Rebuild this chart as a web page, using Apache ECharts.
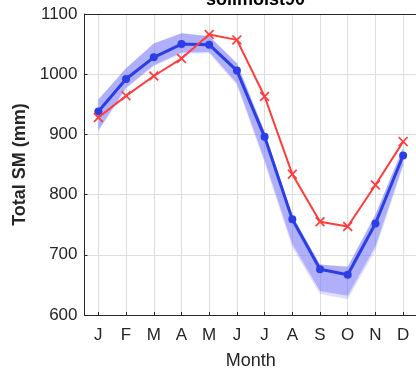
<!DOCTYPE html>
<html><head><meta charset="utf-8">
<script src="https://cdn.jsdelivr.net/npm/echarts@6/dist/echarts.min.js"></script>
<style>html,body{margin:0;padding:0;background:#fff}#c{width:416px;height:370px}</style>
</head><body><div id="c"></div>
<script>
const months = ['J','F','M','A','M','J','J','A','S','O','N','D'];
const monthIdx = [1,2,3,4,5,6,7,8,9,10,11,12];
const blueMean = [938, 992, 1028, 1050, 1049, 1006, 896, 759, 676, 667, 752, 865];
const redObs   = [928, 964, 997, 1026, 1066, 1057, 963, 834, 755, 747, 816, 888];
const bandLow  = [907, 978, 1015, 1036, 1037, 985, 857, 718, 640, 632, 714, 850];
const bandHigh = [958, 1010, 1051, 1068, 1063, 1018, 905, 765, 684, 680, 767, 878];
const bandOuterLow = [905, 976, 1013, 1034, 1035, 982, 852, 712, 635, 626, 708, 847];
const yTicks = [600, 700, 800, 900, 1000, 1100];

const pair = (arr) => arr.map((v, i) => [monthIdx[i], v]);

const chart = echarts.init(document.getElementById('c'), null, {renderer: 'canvas'});
const axisCol = '#262626';
const gridCol = '#dedede';
const font = 'Liberation Sans, Arial, sans-serif';
const xPath = 'path://M0,1.2 L1.2,0 L5,3.8 L8.8,0 L10,1.2 L6.2,5 L10,8.8 L8.8,10 L5,6.2 L1.2,10 L0,8.8 L3.8,5 Z';

function bandRenderer(high, low, fill) {
  return function (params, api) {
    if (params.dataIndex !== 0) return null;
    const pts = [];
    for (let i = 0; i < monthIdx.length; i++) pts.push(api.coord([monthIdx[i], high[i]]));
    for (let i = monthIdx.length - 1; i >= 0; i--) pts.push(api.coord([monthIdx[i], low[i]]));
    return {type: 'polygon', shape: {points: pts}, style: {fill: fill, stroke: 'none'}};
  };
}

chart.setOption({
  animation: false,
  title: {
    text: 'soilmoist90', left: 250.5, textAlign: 'center', top: -14,
    textStyle: {fontFamily: font, fontSize: 18, fontWeight: 'bold', color: '#000'}
  },
  grid: {left: 84.5, top: 14, right: -1, bottom: 55, containLabel: false, outerBoundsMode: 'none',
         show: false},
  xAxis: {
    type: 'value', min: 0.5, max: 12.5,
    name: 'Month', nameLocation: 'middle', nameGap: 37,
    nameTextStyle: {fontFamily: font, fontSize: 18, color: axisCol},
    axisLine: {show: true, onZero: false, lineStyle: {color: axisCol, width: 1}},
    axisTick: {show: true, inside: true, length: 3, customValues: monthIdx, lineStyle: {color: axisCol}},
    axisLabel: {customValues: monthIdx, formatter: (v) => months[Math.round(v) - 1] || '',
                fontFamily: font, fontSize: 17, color: axisCol, margin: 12},
    splitLine: {show: true, lineStyle: {color: gridCol, width: 1}}
  },
  yAxis: {
    type: 'value', min: 600, max: 1100, interval: 100,
    name: 'Total SM (mm)', nameLocation: 'middle', nameGap: 52,
    nameTextStyle: {fontFamily: font, fontSize: 18, fontWeight: 'bold', color: axisCol},
    axisLine: {show: true, lineStyle: {color: axisCol, width: 1}},
    axisTick: {show: true, inside: true, length: 3, lineStyle: {color: axisCol}},
    axisLabel: {fontFamily: font, fontSize: 17, color: axisCol, margin: 7,
                formatter: (v) => yTicks.includes(v) ? String(v) : ''},
    splitLine: {show: true, lineStyle: {color: gridCol, width: 1}}
  },
  series: [
    {type: 'custom', renderItem: bandRenderer(bandHigh, bandOuterLow, 'rgba(150,150,248,0.3)'),
     data: pair(blueMean), silent: true, z: 2},
    {type: 'custom', renderItem: bandRenderer(bandHigh, bandLow, 'rgba(110,110,245,0.42)'),
     data: pair(blueMean), silent: true, z: 3},
    {type: 'line', data: pair(blueMean), symbol: 'circle', symbolSize: 8,
     lineStyle: {color: '#2b3ee6', width: 3}, itemStyle: {color: '#2b3ee6'}, z: 5},
    {type: 'line', data: pair(redObs), symbol: xPath, symbolSize: 10,
     lineStyle: {color: '#ff3b3b', width: 2}, itemStyle: {color: '#ff3b3b'}, z: 6}
  ],
  graphic: [
    {type: 'line', shape: {x1: 84.5, y1: 14.5, x2: 416, y2: 14.5}, style: {stroke: axisCol, lineWidth: 1}, z: 10}
  ]
});
</script>
</body></html>
